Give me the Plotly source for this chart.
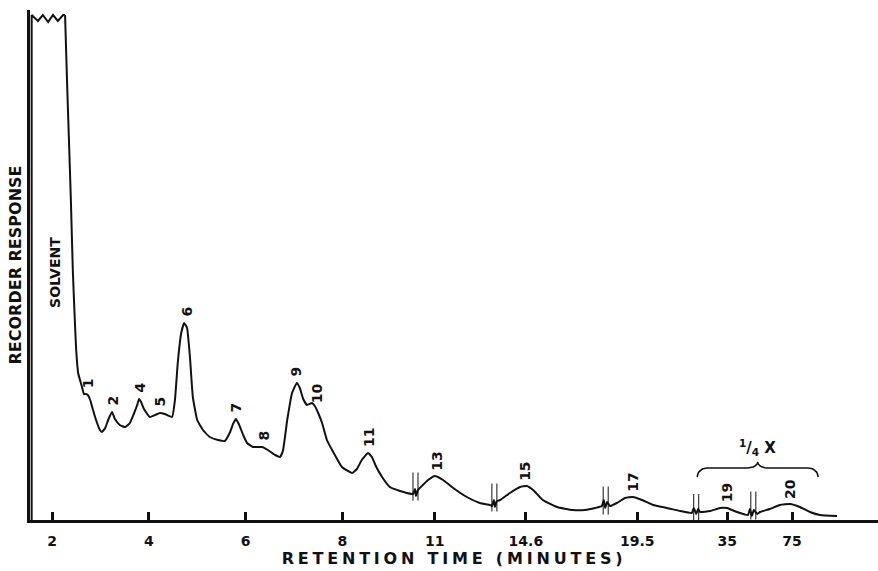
import numpy as np
import plotly.graph_objects as go

# ---------------- data ----------------
# x: chart position (in minutes of the first, linear part of the chart);
# y: recorder response (arbitrary units, 0 = baseline)
chart_pos = [
    1.58, 1.58, 1.71, 1.81, 1.92, 2.02, 2.12, 2.23, 2.27, 2.31, 2.35, 2.39, 2.43, 2.48, 2.50,
    2.54, 2.62, 2.66, 2.70, 2.74, 2.79, 2.83, 2.91, 2.99, 3.03, 3.10, 3.16, 3.24, 3.30, 3.40,
    3.51, 3.61, 3.69, 3.76, 3.80, 3.84, 3.90, 4.02, 4.13, 4.23, 4.33, 4.48, 4.54, 4.60, 4.67,
    4.73, 4.79, 4.85, 4.91, 5.00, 5.12, 5.26, 5.43, 5.57, 5.68, 5.74, 5.80, 5.86, 5.95, 6.03,
    6.15, 6.34, 6.46, 6.61, 6.71, 6.77, 6.86, 6.96, 7.06, 7.12, 7.19, 7.27, 7.37, 7.43, 7.50,
    7.58, 7.68, 7.81, 7.99, 8.20, 8.30, 8.40, 8.53, 8.61, 8.69, 8.82, 8.98, 9.19, 9.44,
    9.46, 9.50, 9.52, 9.56, 9.60, 9.77, 9.91, 10.08, 10.29, 10.57, 10.84, 11.05,
    11.09, 11.13, 11.15, 11.19, 11.26, 11.46, 11.67, 11.81, 11.94, 12.14, 12.43, 12.76, 13.01,
    13.22, 13.36, 13.40, 13.43, 13.47, 13.53, 13.67, 13.84, 14.00, 14.19, 14.42, 14.71, 14.98,
    15.22, 15.26, 15.31, 15.35, 15.39, 15.60, 15.80, 15.95, 16.15, 16.38,
    16.42, 16.46, 16.50, 16.57, 16.63, 16.83, 17.04, 17.25, 17.45, 17.66, 17.87, 18.22,
]
response = [
    0.0, 101.0, 99.8, 101.0, 99.6, 101.0, 99.8, 101.0, 101.0, 88.0, 76.0, 64.0, 50.0, 38.0, 34.0,
    29.4, 26.6, 25.2, 25.2, 25.0, 24.0, 22.6, 20.0, 18.0, 17.6, 18.4, 20.0, 21.6, 20.2, 19.0,
    18.6, 19.4, 21.2, 23.0, 24.2, 23.6, 22.2, 20.6, 21.0, 21.4, 21.2, 20.6, 24.0, 31.6, 37.4,
    39.4, 38.4, 32.6, 24.6, 20.0, 18.0, 16.6, 16.0, 15.8, 17.6, 19.2, 20.2, 19.2, 17.0, 15.4,
    14.6, 14.6, 14.0, 13.0, 12.6, 13.8, 20.0, 25.4, 27.4, 26.4, 24.2, 23.0, 23.4, 22.8, 21.4,
    19.4, 16.0, 13.6, 10.6, 9.4, 10.2, 12.0, 13.4, 12.6, 10.8, 8.6, 6.6, 5.8, 5.2,
    5.2, 6.2, 4.8, 6.0, 6.4, 8.0, 8.8, 8.0, 6.4, 4.6, 3.4, 3.0,
    2.8, 4.0, 2.6, 3.8, 4.0, 5.4, 6.6, 6.8, 6.0, 4.0, 2.6, 2.0, 2.0,
    2.4, 2.8, 4.0, 2.4, 3.6, 2.8, 3.4, 4.4, 4.6, 4.0, 3.0, 2.4, 1.8,
    1.4, 2.4, 1.2, 2.2, 1.6, 1.8, 2.4, 2.4, 1.6, 1.0,
    2.2, 0.8, 2.0, 1.2, 1.6, 2.2, 3.0, 3.2, 2.6, 1.6, 1.0, 0.8,
]

# axis ticks: chart position and the retention time printed there
tick_pos = [2.0, 4.0, 6.0, 8.0, 9.91, 11.79, 14.09, 15.95, 17.29]
tick_text = ["2", "4", "6", "8", "11", "14.6", "19.5", "35", "75"]

# numbered peaks: label, apex position and apex height
peak_labels = ["1", "2", "4", "5", "6", "7", "8", "9", "10", "11", "13", "15", "17", "19", "20"]
peak_pos = [2.74, 3.24, 3.80, 4.23, 4.77, 5.80, 6.36, 7.04, 7.48, 8.55, 9.95, 11.77, 14.00, 15.95, 17.25]
peak_height = [25.0, 21.6, 24.2, 21.4, 39.4, 20.2, 14.6, 27.4, 22.4, 13.4, 8.8, 6.8, 4.6, 2.4, 3.2]

# attenuator / chart-speed change points (pen breaks)
break_pos = [9.51, 11.14, 13.44, 15.31, 16.49]

# region recorded at 1/4 attenuation
attenuated_range = [15.33, 17.83]
solvent_label_pos = [2.06, 49.6]

# ---------------- figure ----------------
INK = "#111111"
FONT = "DejaVu Sans"
PX_X = 1 / 48.4   # chart units per pixel (x)
PX_Y = 1 / 5.0    # response units per pixel (y)
SOLVENT_END = 9   # the off-scale solvent peak (with its clipped, zig-zag top) is drawn straight

fig = go.Figure()

fig.add_trace(go.Scatter(
    x=chart_pos[:SOLVENT_END], y=response[:SOLVENT_END], mode="lines",
    line=dict(color=INK, width=2), hoverinfo="skip", showlegend=False,
))
fig.add_trace(go.Scatter(
    x=chart_pos[SOLVENT_END - 1:], y=response[SOLVENT_END - 1:], mode="lines",
    line=dict(color=INK, width=2, shape="spline", smoothing=0.4),
    hoverinfo="skip", showlegend=False,
))

# pen-break marks: two thin vertical strokes across the trace
bx, by = [], []
for b in break_pos:
    yc = float(np.interp(b, chart_pos, response))
    for dx in (-2.5 * PX_X, 2.5 * PX_X):
        bx += [b + dx, b + dx, None]
        by += [yc + 20 * PX_Y, max(yc - 8 * PX_Y, 0), None]
fig.add_trace(go.Scatter(x=bx, y=by, mode="lines", line=dict(color=INK, width=1),
                         hoverinfo="skip", showlegend=False))

# curly brace above the attenuated part
x0, x1 = attenuated_range
xm = (x0 + x1) / 2
y0, hb, hc, hook = 8.6, 1.8, 1.2, 10 * PX_X
th = np.linspace(0, np.pi / 2, 12)
left_hook_x = x0 + hook * (1 - np.cos(th)); left_hook_y = y0 + hb * np.sin(th)
cusp_l_x = xm - hook + hook * np.sin(th); cusp_l_y = y0 + hb + hc * (1 - np.cos(th))
brace_x = np.concatenate([left_hook_x, cusp_l_x, (2 * xm - cusp_l_x)[::-1], (2 * xm - left_hook_x)[::-1]])
brace_y = np.concatenate([left_hook_y, cusp_l_y, cusp_l_y[::-1], left_hook_y[::-1]])
fig.add_trace(go.Scatter(x=brace_x, y=brace_y, mode="lines", line=dict(color=INK, width=1.6),
                         hoverinfo="skip", showlegend=False))

annotations = []
for lab, px, ph in zip(peak_labels, peak_pos, peak_height):
    annotations.append(dict(
        x=px, y=ph, text=lab, showarrow=False, textangle=-90,
        xanchor="center", yanchor="middle", yshift=8 + 3.5 * len(lab),
        font=dict(family=FONT, size=14, color=INK, weight="bold"),
    ))
annotations.append(dict(
    x=solvent_label_pos[0], y=solvent_label_pos[1], text="SOLVENT", showarrow=False,
    textangle=-90, xanchor="center", yanchor="middle",
    font=dict(family=FONT, size=14, color=INK, weight="bold"),
))
annotations.append(dict(
    x=xm, y=y0 + hb + hc, text="<sup>1</sup>/<sub>4</sub> X", showarrow=False,
    xanchor="center", yanchor="bottom", yshift=2,
    font=dict(family=FONT, size=15, color=INK, weight="bold"),
))

fig.update_layout(
    width=878, height=571,
    margin=dict(l=30, r=0, t=10, b=51),
    paper_bgcolor="white", plot_bgcolor="white",
    showlegend=False,
    annotations=annotations,
    xaxis=dict(
        range=[1.5455, 19.066], showgrid=False, zeroline=False,
        showline=True, linecolor=INK, linewidth=3,
        tickmode="array", tickvals=tick_pos, ticktext=tick_text,
        ticks="inside", ticklen=8, tickwidth=2.5, tickcolor=INK,
        tickfont=dict(family=FONT, size=14, color=INK, weight="bold"),
        ticklabelstandoff=6,
        title=dict(text="RETENTION TIME (MINUTES)", standoff=6,
                   font=dict(family=FONT, size=16, color=INK, weight="bold")),
    ),
    yaxis=dict(
        range=[0, 102], showgrid=False, zeroline=False,
        showline=True, linecolor=INK, linewidth=3,
        showticklabels=False, ticks="",
        title=dict(text="RECORDER RESPONSE", standoff=2,
                   font=dict(family=FONT, size=16, color=INK, weight="bold")),
    ),
)

post = """
document.body.style.margin = '0';
document.body.style.padding = '0';
var gd = document.getElementById('{plot_id}');
function spaceTitle(){
  var t = gd.querySelector('.g-xtitle text');
  if (t) { t.setAttribute('letter-spacing', '3.8px'); }
}
spaceTitle();
gd.on('plotly_afterplot', spaceTitle);
"""
fig.write_html("out.html", post_script=post, config={"displayModeBar": False})
